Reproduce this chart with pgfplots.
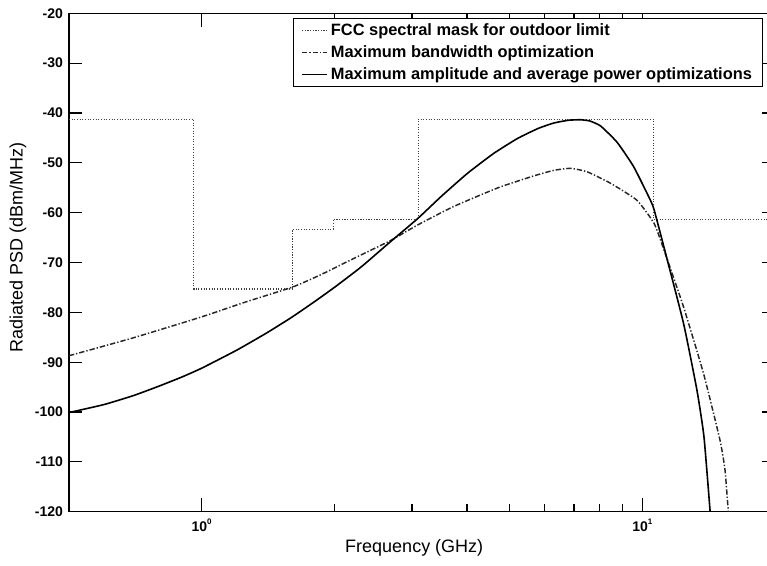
\documentclass[border=0pt]{standalone}
\usepackage{pgfplots}
\pgfplotsset{compat=1.18}
\usepackage{fontspec}
\setmainfont{Liberation Sans}
\begin{document}
\begin{tikzpicture}
\begin{axis}[
  scale only axis,
  width=529.5pt, height=373.8pt,
  xmode=log,
  xmin=0.5, xmax=20,
  ymin=-120, ymax=-20,
  ytick={-120,-110,-100,-90,-80,-70,-60,-50,-40,-30,-20},
  yticklabels={-120,-110,-100,-90,-80,-70,-60,-50,-40,-30,-20},
  xtick={1,10},
  xticklabels={\textbf{10}\raisebox{0.9ex}{\fontsize{6pt}{6pt}\selectfont\textbf{0}},\textbf{10}\raisebox{0.9ex}{\fontsize{6pt}{6pt}\selectfont\textbf{1}}},
  tick align=inside,
  major tick length=10pt,
  minor tick length=5.5pt,
  every tick/.style={black, line width=0.9pt},
  axis line style={line width=1.1pt},
  tick label style={font=\fontsize{10.5pt}{12pt}\selectfont\bfseries},
  /pgf/number format/assume math mode=true,
  xticklabel style={yshift=-2pt},
  yticklabel style={xshift=-1pt},
  xlabel={Frequency (GHz)},
  ylabel={Radiated PSD (dBm/MHz)},
  every axis x label/.style={at={(axis description cs:0.489,-0.0728)}, anchor=center, font=\fontsize{13.5pt}{15pt}\selectfont},
  every axis y label/.style={at={(axis description cs:-0.0722,0.53)}, anchor=center, rotate=90, font=\fontsize{13.5pt}{15pt}\selectfont},
  legend style={at={(axis description cs:0.983,0.9906)}, anchor=north east,
    draw=black, line width=0.6pt, font=\fontsize{12.3pt}{13pt}\selectfont\bfseries,
    inner xsep=6pt, inner ysep=2pt, row sep=2pt, cells={anchor=west}},
  legend image code/.code={\draw[#1] (0pt,0pt) -- (19pt,0pt);},
  legend cell align=left,
]
\addplot[black!75, line width=0.9pt, dash pattern=on 0.8pt off 1.2pt] coordinates {
 (0.5,-41.3) (0.96,-41.3) (0.96,-75.3) (1.61,-75.3) (1.61,-63.3) (1.99,-63.3)
 (1.99,-61.3) (3.1,-61.3) (3.1,-41.3) (10.6,-41.3) (10.6,-61.3) (20,-61.3)};
\addlegendentry{FCC spectral mask for outdoor limit}
\addplot[black!85, line width=1.1pt, dash pattern=on 4pt off 1.5pt on 1pt off 1.5pt, smooth, tension=0.3] table {
x y
0.5 -88.7
0.7 -85.1
1.0 -80.9
1.25 -78.0
1.61 -74.9
1.868 -72.4
2.2 -69.3
2.667 -65.7
3.1 -62.4
3.68 -59.0
4.2 -56.8
4.77 -54.8
5.68 -52.6
6.3 -51.5
6.87 -51.1
7.5 -51.8
8.47 -54.1
9.72 -57.5
10.64 -62.2
11.27 -68.2
12.4 -78.9
13.76 -92.2
15.0 -105.6
15.4 -111.6
15.67 -120
};
\addlegendentry{Maximum bandwidth optimization}
\addplot[black, line width=1.2pt, smooth, tension=0.3] table {
x y
0.5 -100.1
0.6 -98.5
0.7 -96.7
0.8 -94.8
0.9 -93.0
1.0 -91.2
1.2 -87.6
1.4 -84.2
1.6 -81.0
1.8 -77.9
2.0 -75.0
2.3 -70.9
2.667 -66.0
3.09 -61.2
3.5 -56.7
4.01 -52.1
4.6 -48.1
5.21 -45.1
5.8 -43.1
6.3 -42.0
6.8 -41.45
7.24 -41.35
7.6 -41.6
8.04 -42.6
8.77 -45.9
9.56 -50.8
10.43 -57.5
10.64 -59.5
11.27 -67.9
12.4 -82.2
13.3 -95.6
13.8 -105.0
14.25 -120
};
\addlegendentry{Maximum amplitude and average power optimizations}
\end{axis}
\pgfresetboundingbox
\useasboundingbox ([xshift=-51.75pt,yshift=-40pt]current axis.south west) rectangle ([xshift=523.5pt,yshift=10pt]current axis.north west);
\end{tikzpicture}
\end{document}
